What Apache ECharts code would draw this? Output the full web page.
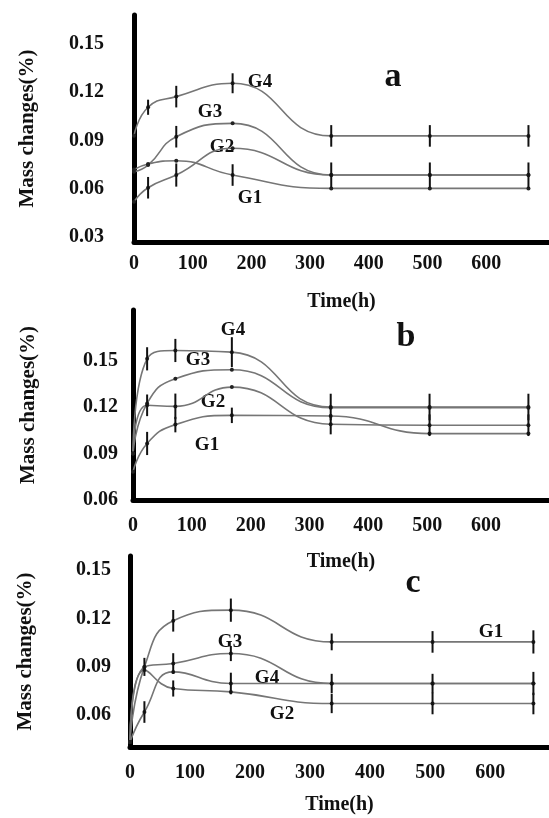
<!DOCTYPE html>
<html>
<head>
<meta charset="utf-8">
<title>Mass changes</title>
<script src="https://cdn.jsdelivr.net/npm/echarts@6/dist/echarts.min.js"></script>
<style>
html, body { margin: 0; padding: 0; background: #fff; }
#main { width: 549px; height: 818px; }
</style>
</head>
<body>
<div id="main"></div>
<script>
// sampling times (h)
var hours = [0, 24, 72, 168, 336, 504, 672];
var yTicks = [0.03, 0.06, 0.09, 0.12, 0.15];
var groups = ['G1', 'G2', 'G3', 'G4'];

// panel a
var aG1 = [0.072, 0.0755, 0.0775, 0.0686, 0.0603, 0.0603, 0.0603];
var aG2 = [0.052, 0.0607, 0.0686, 0.0852, 0.0686, 0.0686, 0.0686];
var aG3 = [0.0707, 0.0748, 0.0924, 0.1007, 0.0686, 0.0686, 0.0686];
var aG4 = [0.093, 0.1107, 0.1173, 0.1256, 0.0929, 0.0929, 0.0929];
var aG1Err = [0, 0, 0, 0.0067, 0, 0, 0];
var aG2Err = [0, 0.0067, 0.0072, 0, 0.0078, 0.0078, 0.0078];
var aG3Err = [0, 0, 0.0067, 0, 0, 0, 0];
var aG4Err = [0, 0.0047, 0.0067, 0.0062, 0.0067, 0.0067, 0.0067];

// panel b
var bG1 = [0.0783, 0.0966, 0.1088, 0.1148, 0.1144, 0.103, 0.103];
var bG2 = [0.0901, 0.1213, 0.1206, 0.1331, 0.109, 0.1084, 0.1084];
var bG3 = [0.0901, 0.1225, 0.1385, 0.1443, 0.1198, 0.1198, 0.1198];
var bG4 = [0.0901, 0.1514, 0.1568, 0.1557, 0.1202, 0.1202, 0.1202];
var bG1Err = [0, 0.0075, 0.005, 0.005, 0, 0, 0];
var bG2Err = [0, 0.007, 0.0083, 0, 0.0065, 0.007, 0.007];
var bG3Err = [0, 0, 0, 0, 0, 0, 0];
var bG4Err = [0, 0.0075, 0.0075, 0.0097, 0.0086, 0.0086, 0.0086];

// panel c
var cG1 = [0.0434, 0.090, 0.1186, 0.1252, 0.1055, 0.1055, 0.1055];
var cG2 = [0.0434, 0.088, 0.0766, 0.0745, 0.0673, 0.0673, 0.0673];
var cG3 = [0.0434, 0.090, 0.0921, 0.0983, 0.0797, 0.0797, 0.0797];
var cG4 = [0.0434, 0.062, 0.0869, 0.0797, 0.0797, 0.0797, 0.0797];
var cG1Err = [0, 0.0056, 0.0067, 0.0072, 0.0052, 0.0067, 0.0072];
var cG2Err = [0, 0, 0.005, 0, 0.006, 0.0067, 0.0067];
var cG3Err = [0, 0, 0.0064, 0.0047, 0, 0, 0];
var cG4Err = [0, 0.0067, 0, 0.0067, 0.006, 0.006, 0.0072];

var panels = [
	{ vals: [aG1, aG2, aG3, aG4], errs: [aG1Err, aG2Err, aG3Err, aG4Err] },
	{ vals: [bG1, bG2, bG3, bG4], errs: [bG1Err, bG2Err, bG3Err, bG4Err] },
	{ vals: [cG1, cG2, cG3, cG4], errs: [cG1Err, cG2Err, cG3Err, cG4Err] }
];

var font = 'Liberation Serif';

// grid layout for the 3 panels
var grids = [
	{ left: 134, top: 15, right: 0, bottom: 576 },
	{ left: 133, top: 310, right: 0, bottom: 318 },
	{ left: 130, top: 556, right: 0, bottom: 71 }
];
var yRange = [[0.027, 0.168], [0.06, 0.183], [0.0403, 0.1588]];
var xMax = [707, 707, 698];
var yLabelMargin = [30, 15, 19];
var xLabelMargin = [12, 16, 16];
var xNameGap = [50, 52, 48];

var xAxes = [], yAxes = [], series = [];
for (var i = 0; i < 3; i++) {
	xAxes.push({
		type: 'value', gridIndex: i, min: 0, max: xMax[i],
		name: 'Time(h)', nameLocation: 'middle', nameGap: xNameGap[i],
		nameTextStyle: { fontFamily: font, fontWeight: 'bold', fontSize: 20, color: '#111' },
		axisLine: { lineStyle: { color: '#000', width: 5 } },
		axisTick: { show: false },
		splitLine: { show: false },
		axisLabel: {
			customValues: [0, 100, 200, 300, 400, 500, 600],
			margin: xLabelMargin[i],
			fontFamily: font, fontWeight: 'bold', fontSize: 20, color: '#111'
		}
	});
	yAxes.push({
		type: 'value', gridIndex: i, min: yRange[i][0], max: yRange[i][1],
		name: 'Mass changes(%)', nameLocation: 'middle', nameRotate: 90, nameGap: 96 - (i === 0 ? 0 : 2),
		nameTextStyle: { fontFamily: font, fontWeight: 'bold', fontSize: 21, color: '#111' },
		axisLine: { show: true, lineStyle: { color: '#000', width: 5 } },
		axisTick: { show: false },
		splitLine: { show: false },
		axisLabel: {
			customValues: yTicks.filter(function (v) { return v >= yRange[i][0]; }),
			margin: yLabelMargin[i],
			formatter: function (v) { return v.toFixed(2); },
			fontFamily: font, fontWeight: 'bold', fontSize: 20, color: '#111'
		}
	});
	for (var g = 0; g < 4; g++) {
		var pts = [], bars = [];
		for (var k = 0; k < hours.length; k++) {
			pts.push([hours[k], panels[i].vals[g][k]]);
			if (panels[i].errs[g][k] > 0) bars.push([hours[k], panels[i].vals[g][k], panels[i].errs[g][k]]);
		}
		series.push({
			type: 'line', name: groups[g], xAxisIndex: i, yAxisIndex: i,
			data: pts, smooth: 0.5,
			symbol: 'circle', symbolSize: 4,
			itemStyle: { color: '#222' },
			lineStyle: { color: '#767676', width: 1.6 },
			z: 2
		});
		// 误差线
		series.push({
			type: 'custom', xAxisIndex: i, yAxisIndex: i, data: bars, z: 3,
			renderItem: function (params, api) {
				var x = api.value(0), y = api.value(1), e = api.value(2);
				var p0 = api.coord([x, y - e]);
				var p1 = api.coord([x, y + e]);
				return {
					type: 'line',
					shape: { x1: p0[0], y1: p0[1], x2: p1[0], y2: p1[1] },
					style: { stroke: '#111', lineWidth: 2 }
				};
			}
		});
	}
}

// group names and panel letters
var notes = [
	['G4', 260, 82], ['G3', 210, 112], ['G2', 222, 147], ['G1', 250, 198],
	['G4', 233, 330], ['G3', 198, 360], ['G2', 213, 402], ['G1', 207, 445],
	['G3', 230, 642], ['G4', 267, 678], ['G2', 282, 714], ['G1', 491, 632]
];
var letters = [['a', 393, 77], ['b', 406, 337], ['c', 413, 583]];
var graphic = [];
notes.forEach(function (n) {
	graphic.push({ type: 'text', x: n[1], y: n[2], style: { text: n[0], fill: '#111', font: 'bold 19px "Liberation Serif"', align: 'center', verticalAlign: 'middle' } });
});
letters.forEach(function (n) {
	graphic.push({ type: 'text', x: n[1], y: n[2], style: { text: n[0], fill: '#111', font: 'bold 34px "Liberation Serif"', align: 'center', verticalAlign: 'middle' } });
});

var chart = echarts.init(document.getElementById('main'), null, { renderer: 'canvas' });
chart.setOption({
	animation: false,
	backgroundColor: '#fff',
	grid: grids,
	xAxis: xAxes,
	yAxis: yAxes,
	series: series,
	graphic: graphic
});
</script>
</body>
</html>
